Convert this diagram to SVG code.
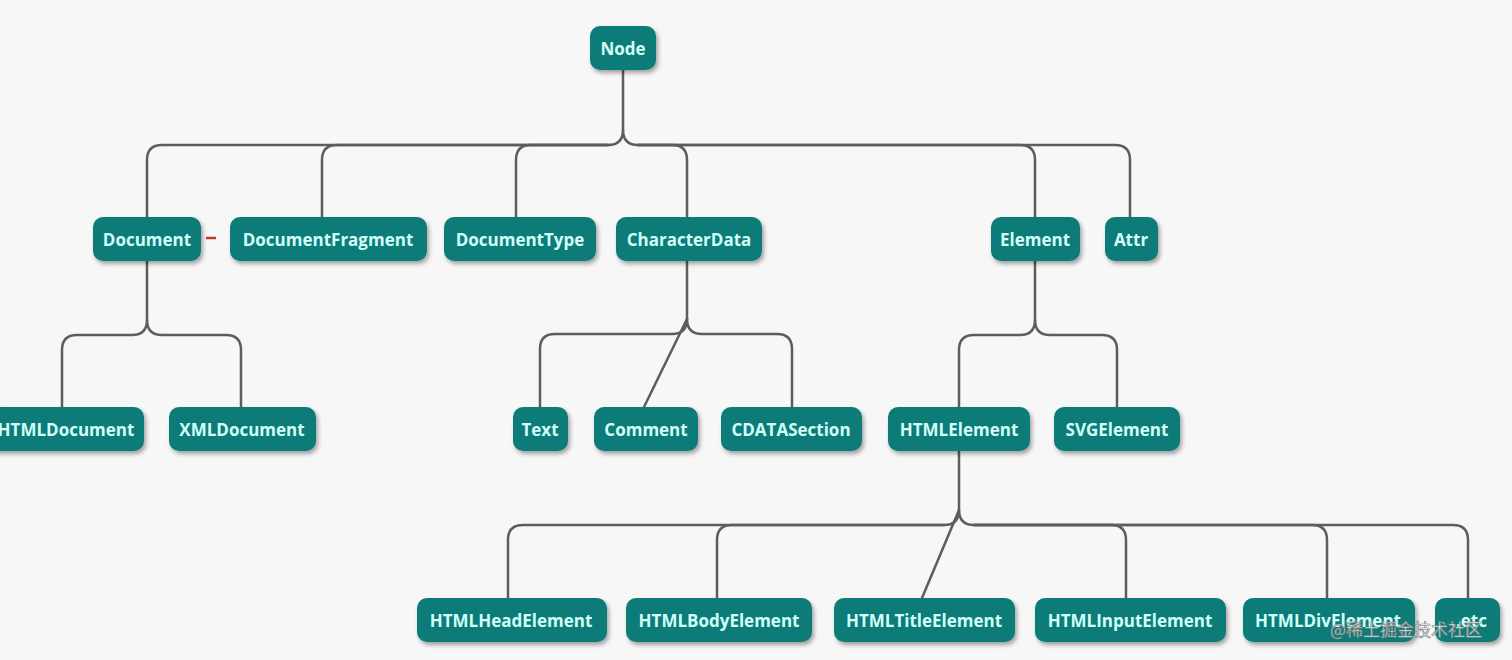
<svg xmlns="http://www.w3.org/2000/svg" width="1512" height="660" viewBox="0 0 1512 660">
<defs>
<filter id="sh" x="-20%" y="-30%" width="140%" height="170%">
<feDropShadow dx="2" dy="3" stdDeviation="2" flood-color="#000" flood-opacity="0.35"/>
</filter>
<style>
.b{fill:#0d7b78;filter:url(#sh)}
.t{font-family:"Open Sans","Noto Sans","Liberation Sans",sans-serif;font-weight:700;font-size:17px;fill:#d2fff9;text-anchor:middle;dominant-baseline:central}
.c{fill:none;stroke:#5d5d5d;stroke-width:2.5;stroke-linecap:round}
.wm{font-family:"Noto Sans CJK SC","Noto Sans",sans-serif;font-size:17px;fill:#ffffff;fill-opacity:0.85;stroke:#777;stroke-width:0.6}
</style>
</defs>
<rect width="1512" height="660" fill="#f7f7f7"/>
<g id="connectors">
<path class="c" d="M623,70 V130 Q623,145 608,145 H162 Q147,145 147,160 V217"/>
<path class="c" d="M608,145 H337 Q322,145 322,160 V217"/>
<path class="c" d="M608,145 H531 Q516,145 516,160 V217"/>
<path class="c" d="M623,130 Q623,145 638,145 H672 Q687,145 687,160 V217"/>
<path class="c" d="M638,145 H1020 Q1035,145 1035,160 V217"/>
<path class="c" d="M638,145 H1115 Q1130,145 1130,160 V217"/>
<path class="c" d="M147,261 V320 Q147,335 132,335 H77 Q62,335 62,350 V407"/>
<path class="c" d="M147,320 Q147,335 162,335 H226 Q241,335 241,350 V407"/>
<path class="c" d="M687,261 V319 Q687,334 672,334 H555 Q540,334 540,349 V407"/>
<path class="c" d="M687,319 Q687,334 702,334 H777 Q792,334 792,349 V407"/>
<path class="c" d="M687,319 L644,407"/>
<path class="c" d="M1035,261 V320 Q1035,335 1020,335 H974 Q959,335 959,350 V407"/>
<path class="c" d="M1035,320 Q1035,335 1050,335 H1102 Q1117,335 1117,350 V407"/>
<path class="c" d="M959,451 V510 Q959,525 944,525 H523 Q508,525 508,540 V598"/>
<path class="c" d="M944,525 H732 Q717,525 717,540 V598"/>
<path class="c" d="M959,510 Q959,525 974,525 H1111 Q1126,525 1126,540 V598"/>
<path class="c" d="M974,525 H1312 Q1327,525 1327,540 V598"/>
<path class="c" d="M974,525 H1453 Q1468,525 1468,540 V598"/>
<path class="c" d="M959,510 L922,598"/>
<path d="M206,238 H216" stroke="#c0392b" stroke-width="2.5" fill="none"/>
</g>
<g id="node-Node"><rect class="b" x="590" y="26" width="66" height="44" rx="10"/><text class="t" x="623" y="48">Node</text></g>
<g id="node-Document"><rect class="b" x="93" y="217" width="108" height="44" rx="10"/><text class="t" x="147" y="239">Document</text></g>
<g id="node-DocumentFragment"><rect class="b" x="230" y="217" width="197" height="44" rx="10"/><text class="t" x="328" y="239">DocumentFragment</text></g>
<g id="node-DocumentType"><rect class="b" x="444" y="217" width="152" height="44" rx="10"/><text class="t" x="520" y="239">DocumentType</text></g>
<g id="node-CharacterData"><rect class="b" x="616" y="217" width="146" height="44" rx="10"/><text class="t" x="689" y="239">CharacterData</text></g>
<g id="node-Element"><rect class="b" x="991" y="217" width="89" height="44" rx="10"/><text class="t" x="1035" y="239">Element</text></g>
<g id="node-Attr"><rect class="b" x="1105" y="217" width="53" height="44" rx="10"/><text class="t" x="1131" y="239">Attr</text></g>
<g id="node-HTMLDocument"><rect class="b" x="-12" y="407" width="156" height="44" rx="10"/><text class="t" x="66" y="429">HTMLDocument</text></g>
<g id="node-XMLDocument"><rect class="b" x="169" y="407" width="147" height="44" rx="10"/><text class="t" x="242" y="429">XMLDocument</text></g>
<g id="node-Text"><rect class="b" x="513" y="407" width="55" height="44" rx="10"/><text class="t" x="540" y="429">Text</text></g>
<g id="node-Comment"><rect class="b" x="594" y="407" width="104" height="44" rx="10"/><text class="t" x="646" y="429">Comment</text></g>
<g id="node-CDATASection"><rect class="b" x="721" y="407" width="141" height="44" rx="10"/><text class="t" x="791" y="429">CDATASection</text></g>
<g id="node-HTMLElement"><rect class="b" x="888" y="407" width="142" height="44" rx="10"/><text class="t" x="959" y="429">HTMLElement</text></g>
<g id="node-SVGElement"><rect class="b" x="1054" y="407" width="126" height="44" rx="10"/><text class="t" x="1117" y="429">SVGElement</text></g>
<g id="node-HTMLHeadElement"><rect class="b" x="417" y="598" width="190" height="44" rx="10"/><text class="t" x="511" y="620">HTMLHeadElement</text></g>
<g id="node-HTMLBodyElement"><rect class="b" x="626" y="598" width="186" height="44" rx="10"/><text class="t" x="719" y="620">HTMLBodyElement</text></g>
<g id="node-HTMLTitleElement"><rect class="b" x="834" y="598" width="181" height="44" rx="10"/><text class="t" x="924" y="620">HTMLTitleElement</text></g>
<g id="node-HTMLInputElement"><rect class="b" x="1035" y="598" width="191" height="44" rx="10"/><text class="t" x="1130" y="620">HTMLInputElement</text></g>
<g id="node-HTMLDivElement"><rect class="b" x="1243" y="598" width="172" height="44" rx="10"/><text class="t" x="1328" y="620">HTMLDivElement</text></g>
<g id="node-etc"><rect class="b" x="1435" y="598" width="65" height="44" rx="10"/><text class="t" x="1469" y="620">..etc</text></g>
<text class="wm" x="1330" y="636">@稀土掘金技术社区</text>
</svg>
